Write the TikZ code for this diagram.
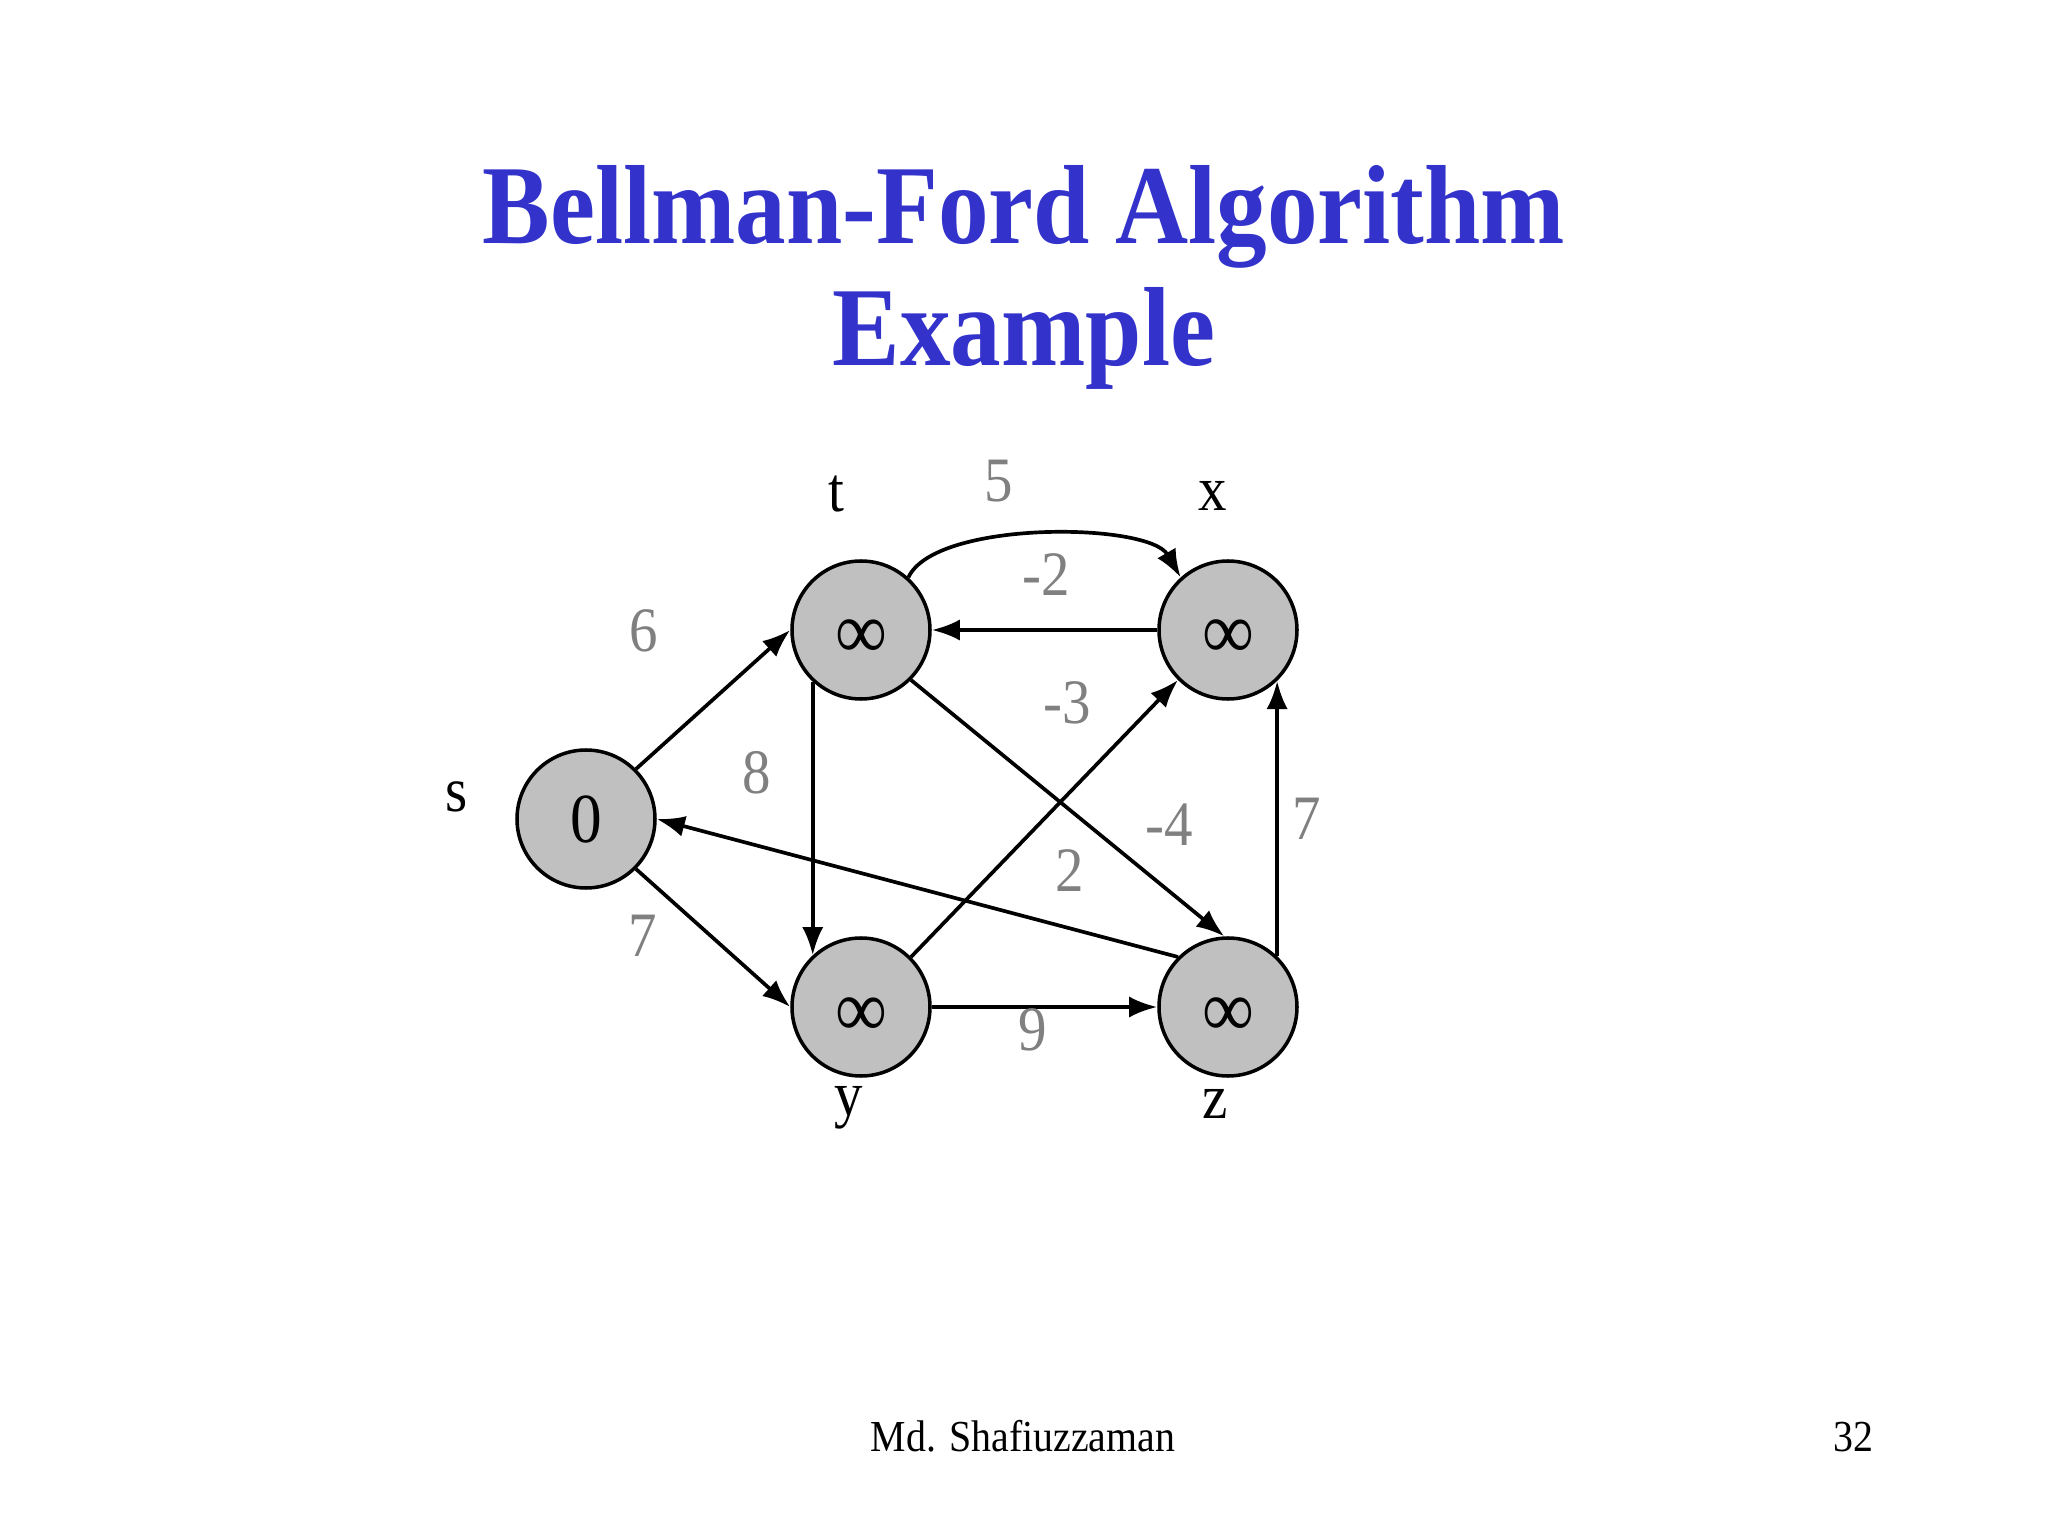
\documentclass[tikz,border=0pt]{standalone}
\usepackage{fontspec}
\setmainfont{Liberation Serif}[FakeStretch=0.9]
\usepackage{xcolor}
\usetikzlibrary{positioning, arrows.meta}

\definecolor{titleblue}{RGB}{51,51,204}
\definecolor{nodegray}{RGB}{192,192,192}
\definecolor{weightgray}{RGB}{128,128,128}

\newcommand{\inftymark}{\raisebox{-2.9mm}[0pt][0pt]{\fontsize{23}{26}\selectfont ∞}}

\begin{document}
\begin{tikzpicture}[
  vert/.style={circle, draw=black, line width=1pt, fill=nodegray,
               minimum size=1.38cm, inner sep=0pt, font=\fontsize{20}{24}\selectfont},
  lbl/.style={font=\fontsize{18}{22}\selectfont},
  wt/.style={font=\fontsize{18}{22}\selectfont, text=weightgray},
  arr/.style={-{Latex[length=8pt, width=6pt]}, line width=1.05pt}
]
\useasboundingbox (0,0) rectangle (20.48,-15.36);

%% Title
\node[anchor=base, font=\bfseries\fontsize{32}{36}\selectfont, text=titleblue]
  (title) at (10.24,-2.44) {Bellman-Ford Algorithm};
\node[anchor=base, font=\bfseries\fontsize{32}{36}\selectfont, text=titleblue]
  (subtitle) at (10.24,-3.66) {Example};

%% Vertices
\node[vert] (s) at (5.86,-8.19)  {0};
\node[vert] (t) at (8.61,-6.30)  {\inftymark};
\node[vert] (x) at (12.28,-6.30) {\inftymark};
\node[vert] (y) at (8.61,-10.07) {\inftymark};
\node[vert] (z) at (12.28,-10.07) {\inftymark};

%% Vertex names
\node[lbl] (ls) at (4.57,-7.97)  {s};
\node[lbl] (lt) at (8.36,-4.94)  {t};
\node[lbl] (lx) at (12.13,-4.96) {x};
\node[lbl] (ly) at (8.49,-11.08) {y};
\node[lbl] (lz) at (12.15,-11.04) {z};

%% ---- Edges ----
\draw[arr] (s.45) -- (t.west);
\draw[arr] (s.-45) -- (y.west);
\draw[arr] (t.48) to[out=65, in=120, looseness=0.6] (x.132);
\draw[arr] (x.west) -- (t.east);
\draw[arr] (t.-133) -- (y.133);
\draw[arr] (t.-45) -- (z.93);
\draw[arr] (y.45) -- (x.225);
\draw[arr] (z.135) -- (s.east);
\draw[arr] (y.east) -- (z.west);
\draw[arr] (z.46) -- (x.-46);

%% ---- Weights ----
\node[wt] (w5)  at (9.99,-4.81)  {5};
\node[wt] (wm2) at (10.46,-5.75) {-2};
\node[wt] (w6)  at (6.44,-6.31)  {6};
\node[wt] (wm3) at (10.67,-7.03) {-3};
\node[wt] (w8)  at (7.57,-7.73)  {8};
\node[wt] (wm4) at (11.69,-8.25) {-4};
\node[wt] (w7r) at (13.07,-8.19) {7};
\node[wt] (w2)  at (10.70,-8.71) {2};
\node[wt] (w7l) at (6.43,-9.36)  {7};
\node[wt] (w9)  at (10.33,-10.30) {9};

%% Footer
\node[anchor=base, font=\fontsize{12.6}{15}\selectfont] (author) at (10.23,-14.51) {Md. Shafiuzzaman};
\node[anchor=base east, font=\fontsize{12.6}{15}\selectfont] (page) at (18.86,-14.51) {32};

\end{tikzpicture}
\end{document}
